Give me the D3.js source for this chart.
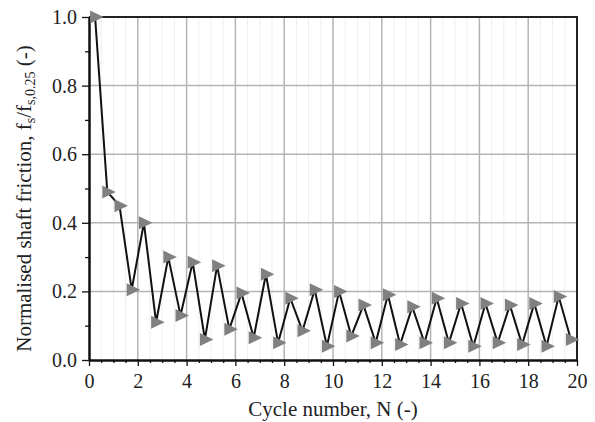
<!DOCTYPE html>
<html><head><meta charset="utf-8">
<script src="https://cdn.jsdelivr.net/npm/d3@7"></script>
<style>body{margin:0;background:#fff}svg{display:block}</style>
</head><body>
<svg id="chart" width="595" height="422"></svg>
<script>
const cycles = [0.25,0.75,1.25,1.75,2.25,2.75,3.25,3.75,4.25,4.75,5.25,5.75,6.25,6.75,7.25,7.75,8.25,8.75,9.25,9.75,
  10.25,10.75,11.25,11.75,12.25,12.75,13.25,13.75,14.25,14.75,15.25,15.75,16.25,16.75,17.25,17.75,18.25,18.75,19.25,19.75];
const friction = [1.0,0.49,0.45,0.205,0.40,0.11,0.30,0.13,0.285,0.06,0.275,0.09,0.195,0.065,0.25,0.05,0.18,0.085,0.205,0.04,
  0.20,0.07,0.16,0.05,0.19,0.045,0.155,0.05,0.18,0.05,0.165,0.04,0.165,0.05,0.16,0.045,0.165,0.04,0.185,0.06];
const xTicks = [0,2,4,6,8,10,12,14,16,18,20];
const xMinor = [0.5,1,1.5,2.5,3,3.5,4.5,5,5.5,6.5,7,7.5,8.5,9,9.5,10.5,11,11.5,12.5,13,13.5,14.5,15,15.5,16.5,17,17.5,18.5,19,19.5];
const yTicks = [0,0.2,0.4,0.6,0.8,1.0];
const yMinor = [0.1,0.3,0.5,0.7,0.9];

const W = 595, H = 422;
const m = {l:89, r:18, t:17, b:62};
const svg = d3.select("#chart");
const x = d3.scaleLinear().domain([0,20]).range([m.l, W-m.r]);
const y = d3.scaleLinear().domain([0,1]).range([H-m.b, m.t]);
const font = "'Liberation Serif','Times New Roman',serif";

// minor grid
svg.append("g").selectAll("line").data(xMinor).join("line")
  .attr("x1",d=>x(d)).attr("x2",d=>x(d)).attr("y1",y(0)).attr("y2",y(1))
  .attr("stroke","#efefef").attr("stroke-width",1);
// major grid
svg.append("g").selectAll("line").data(xTicks.slice(1,-1)).join("line")
  .attr("x1",d=>x(d)).attr("x2",d=>x(d)).attr("y1",y(0)).attr("y2",y(1))
  .attr("stroke","#b4b4b4").attr("stroke-width",1.5);
svg.append("g").selectAll("line").data(yTicks.slice(1,-1)).join("line")
  .attr("x1",x(0)).attr("x2",x(20)).attr("y1",d=>y(d)).attr("y2",d=>y(d))
  .attr("stroke","#b4b4b4").attr("stroke-width",1.5);

// axes
const xAxis = svg.append("g").attr("transform",`translate(0,${y(0)})`)
  .call(d3.axisBottom(x).tickValues(xTicks).tickFormat(d3.format("d")).tickSize(6).tickSizeOuter(0));
const xAxisMinor = svg.append("g").attr("transform",`translate(0,${y(0)})`)
  .call(d3.axisBottom(x).tickValues(xMinor).tickFormat("").tickSize(3).tickSizeOuter(0));
const yAxis = svg.append("g").attr("transform",`translate(${x(0)},0)`)
  .call(d3.axisLeft(y).tickValues(yTicks).tickFormat(d3.format(".1f")).tickSize(7).tickSizeOuter(0));
const yAxisMinor = svg.append("g").attr("transform",`translate(${x(0)},0)`)
  .call(d3.axisLeft(y).tickValues(yMinor).tickFormat("").tickSize(4).tickSizeOuter(0));
[xAxis,xAxisMinor,yAxis,yAxisMinor].forEach(g=>{
  g.select(".domain").attr("stroke","#111").attr("stroke-width",2);
  g.selectAll(".tick line").attr("stroke","#111").attr("stroke-width",1.3);
  g.selectAll("text").attr("font-family",font).attr("font-size",20).attr("fill","#222");
});
xAxis.selectAll("text").attr("dy","0.95em");
yAxis.selectAll("text").attr("dx","-2");

// top/right frame
svg.append("path").attr("d",`M${x(0)},${y(1)}H${x(20)}V${y(0)}`)
  .attr("fill","none").attr("stroke","#222").attr("stroke-width",2);

// line
svg.append("path").datum(cycles.map((c,i)=>[c,friction[i]]))
  .attr("d",d3.line().x(d=>x(d[0])).y(d=>y(d[1])))
  .attr("fill","none").attr("stroke","#111").attr("stroke-width",2).attr("stroke-linejoin","miter");

// markers (right-pointing triangles)
svg.append("g").selectAll("path").data(cycles.map((c,i)=>[c,friction[i]])).join("path")
  .attr("transform",d=>`translate(${x(d[0])},${y(d[1])})`)
  .attr("d","M-5,-6.5L8.5,0L-5,6.5Z").attr("fill","#808080");

// labels
svg.append("text").attr("x",(x(0)+x(20))/2).attr("y",416).attr("text-anchor","middle")
  .attr("font-family",font).attr("font-size",21).attr("fill","#222").text("Cycle number, N (-)");
const yl = svg.append("text").attr("transform",`translate(31,${(y(0)+y(1))/2+10}) rotate(-90)`)
  .attr("text-anchor","middle").attr("font-family",font).attr("font-size",21).attr("fill","#222");
yl.append("tspan").text("Normalised shaft friction, f");
yl.append("tspan").attr("font-size",14).attr("dy",4).text("s");
yl.append("tspan").attr("dy",-4).text("/f");
yl.append("tspan").attr("font-size",14).attr("dy",4).text("s,0.25");
yl.append("tspan").attr("dy",-4).text(" (-)");
</script>
</body></html>
